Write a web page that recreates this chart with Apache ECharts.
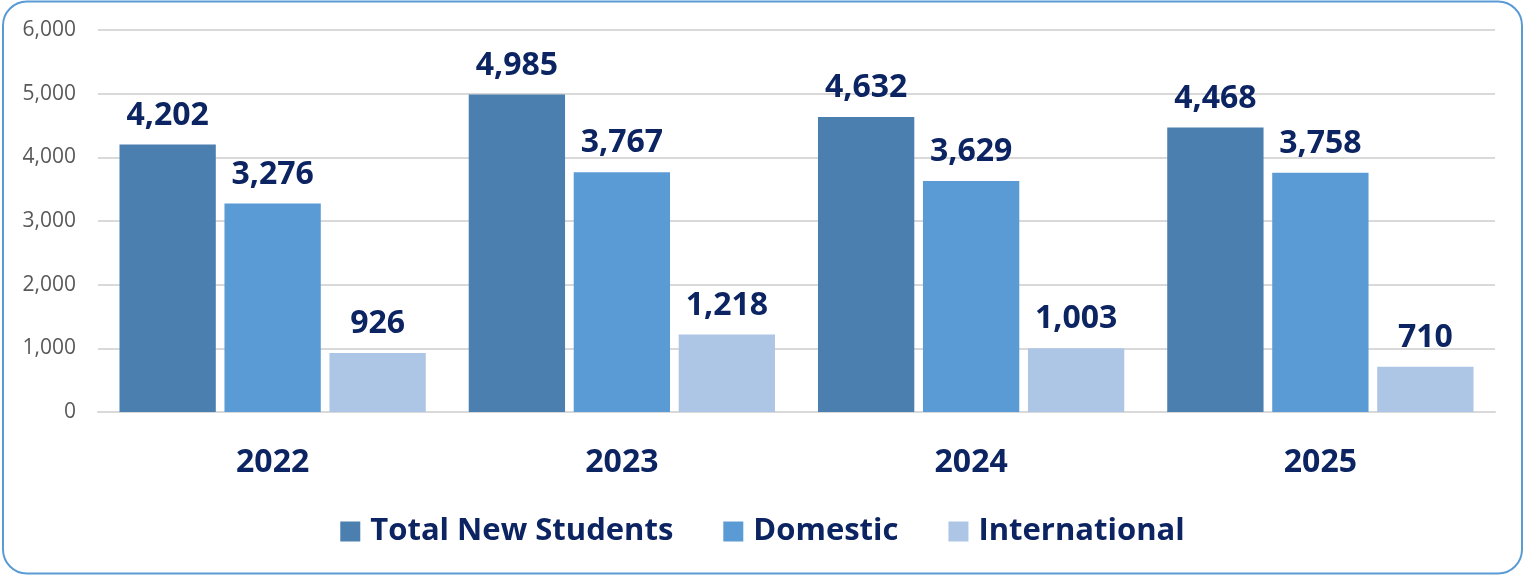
<!DOCTYPE html>
<html><head><meta charset="utf-8">
<script src="https://cdn.jsdelivr.net/npm/echarts@6/dist/echarts.min.js"></script>
<style>html,body{margin:0;padding:0;background:#fff}#c{width:1525px;height:576px}</style>
</head><body><div id="c"></div>
<script>
const categories = ['2022','2023','2024','2025'];
const totalNew = [4202, 4985, 4632, 4468];
const domestic = [3276, 3767, 3629, 3758];
const international = [926, 1218, 1003, 710];
const yTicks = [0, 1000, 2000, 3000, 4000, 5000, 6000];

const navy = '#0c2461';
const font = '"Open Sans", "Noto Sans", sans-serif';
const chart = echarts.init(document.getElementById('c'));
const lbl = {show:true, position:'top', distance:13, color:navy, fontFamily:font, fontWeight:'bold', fontSize:32,
  formatter: p => p.value.toLocaleString('en-US')};
function ser(name, data, color){
  return {name, type:'bar', data, barGap:'9%', barCategoryGap:'12.3%', itemStyle:{color}, label:lbl};
}
chart.setOption({
  animation:false,
  textStyle:{fontFamily:font},
  graphic:[{type:'rect', shape:{x:3, y:1.5, width:1519, height:572, r:24}, style:{fill:'none', stroke:'#5b9bd5', lineWidth:2}, z:-1}],
  grid:{left:98, right:30, top:30, bottom:164},
  legend:{bottom:24, left:'center', itemWidth:20, itemHeight:20, itemGap:50, icon:'rect',
    textStyle:{color:navy, fontSize:31, fontWeight:'bold', fontFamily:font, padding:[0,0,0,5]}},
  xAxis:{type:'category', data:categories, axisTick:{show:false},
    axisLine:{lineStyle:{color:'#d9d9d9', width:2}},
    axisLabel:{color:navy, fontSize:32, fontWeight:'bold', fontFamily:font, margin:35}},
  yAxis:{type:'value', min:yTicks[0], max:yTicks[yTicks.length-1], interval:1000,
    axisLine:{show:false}, axisTick:{show:false},
    splitLine:{lineStyle:{color:'#d9d9d9', width:2}},
    axisLabel:{color:'#595959', fontSize:21, fontFamily:font, margin:22, formatter:v=>v.toLocaleString('en-US')}},
  series:[ser('Total New Students', totalNew, '#4a7fb0'), ser('Domestic', domestic, '#5b9bd5'), ser('International', international, '#adc6e6')]
});
</script></body></html>
